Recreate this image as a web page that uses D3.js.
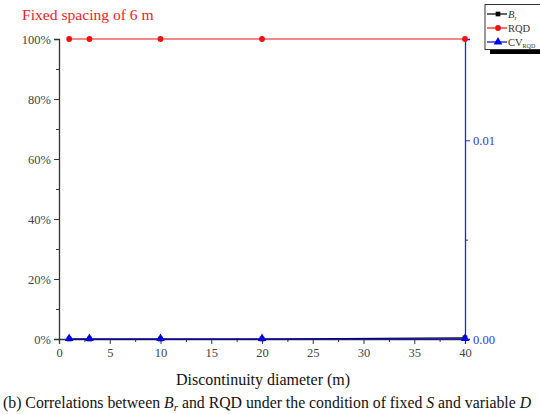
<!DOCTYPE html>
<html><head><meta charset="utf-8">
<script src="https://cdn.jsdelivr.net/npm/d3@7"></script>
<style>body{margin:0;background:#fff}svg{display:block}text{font-family:"Liberation Serif","Times New Roman",serif}</style>
</head><body>
<svg id="c" width="540" height="414"></svg>
<script>
const diameters = [1, 3, 10, 20, 40];
const brValues = [0, 0, 0, 0, 0.004];
const rqdValues = [1, 1, 1, 1, 1];
const cvValues = [0, 0, 0, 0, 0];
const xTicks = [0, 5, 10, 15, 20, 25, 30, 35, 40];
const yTicks = [0, 0.2, 0.4, 0.6, 0.8, 1.0];
const y2Ticks = [0, 0.01];

const svg = d3.select("#c");
const m = {l: 59, r: 465, t: 39, b: 339};
const x = d3.scaleLinear().domain([0, 40]).range([m.l, m.r]);
const y = d3.scaleLinear().domain([0, 1]).range([m.b, m.t]);
const y2 = d3.scaleLinear().domain([0, 0.0151]).range([m.b, m.t]);
const tc = "#444";

// left axis
const gy = svg.append("g").attr("transform", `translate(${m.l},0)`)
  .call(d3.axisLeft(y).tickValues(yTicks).tickFormat(d => Math.round(d*100) + "%").tickSize(5).tickPadding(3));
gy.select(".domain").attr("stroke", "#333").attr("stroke-width", 1.3);
gy.selectAll(".tick line").attr("stroke", "#333");
gy.selectAll("text").attr("font-size", 12.5).attr("fill", tc);
svg.append("g").attr("transform", `translate(${m.l},0)`)
  .call(d3.axisLeft(y).tickValues(d3.range(0.1, 1, 0.2)).tickFormat("").tickSize(3))
  .call(g => g.select(".domain").remove()).selectAll("line").attr("stroke", "#333");

// x axis
const gx = svg.append("g").attr("transform", `translate(0,${m.b})`)
  .call(d3.axisBottom(x).tickValues(xTicks).tickSize(5).tickPadding(4));
gx.select(".domain").attr("stroke", "#333").attr("stroke-width", 1.3);
gx.selectAll(".tick line").attr("stroke", "#333");
gx.selectAll("text").attr("font-size", 12.5).attr("fill", tc);
svg.append("g").attr("transform", `translate(0,${m.b})`)
  .call(d3.axisBottom(x).tickValues(d3.range(2.5, 40, 5)).tickFormat("").tickSize(3))
  .call(g => g.select(".domain").remove()).selectAll("line").attr("stroke", "#333");

// right axis
const gr = svg.append("g").attr("transform", `translate(${m.r},0)`)
  .call(d3.axisRight(y2).tickValues(y2Ticks).tickFormat(d3.format(".2f")).tickSize(5).tickPadding(3));
gr.select(".domain").attr("stroke", "#2222ee").attr("stroke-width", 1.3);
gr.selectAll(".tick line").attr("stroke", "#2222ee");
gr.selectAll("text").attr("font-size", 12.5).attr("fill", "#3333dd");
svg.append("g").attr("transform", `translate(${m.r},0)`)
  .call(d3.axisRight(y2).tickValues([0.005]).tickFormat("").tickSize(3))
  .call(g => g.select(".domain").remove()).selectAll("line").attr("stroke", "#2222ee");

// series
const line = (ys, yv) => d3.line().x((d, i) => x(diameters[i])).y(d => ys(d))(yv);
svg.append("path").attr("d", line(y, brValues)).attr("fill", "none").attr("stroke", "#000").attr("stroke-width", 1.2);
svg.append("path").attr("d", line(y, rqdValues)).attr("fill", "none").attr("stroke", "#ee1111").attr("stroke-width", 1.2);
svg.append("path").attr("d", line(y2, cvValues)).attr("fill", "none").attr("stroke", "#0000ee").attr("stroke-width", 1.2);
const sq = d3.symbol().type(d3.symbolSquare).size(22);
const ci = d3.symbol().type(d3.symbolCircle).size(26);
const tr = d3.symbol().type(d3.symbolTriangle).size(32);
svg.append("g").selectAll("path").data(brValues).join("path")
  .attr("d", sq).attr("transform", (d, i) => `translate(${x(diameters[i])},${y(d)})`).attr("fill", "#000");
svg.append("g").selectAll("path").data(rqdValues).join("path")
  .attr("d", ci).attr("transform", (d, i) => `translate(${x(diameters[i])},${y(d)})`).attr("fill", "#ee1111");
svg.append("g").selectAll("path").data(cvValues).join("path")
  .attr("d", tr).attr("transform", (d, i) => `translate(${x(diameters[i])},${y2(d) - 0.5})`).attr("fill", "#0000ee");

// title
svg.append("text").attr("x", 22).attr("y", 20).attr("font-size", 15.6).attr("fill", "#ee2222").text("Fixed spacing of 6 m");

// x label
svg.append("text").attr("x", 263).attr("y", 385).attr("text-anchor", "middle").attr("font-size", 16).attr("fill", "#111").text("Discontinuity diameter (m)");

// caption
const cap = svg.append("text").attr("x", 3).attr("y", 408).attr("font-size", 15.8).attr("fill", "#111");
cap.append("tspan").text("(b) Correlations between ");
cap.append("tspan").attr("font-style", "italic").text("B");
cap.append("tspan").attr("font-style", "italic").attr("font-size", 11).attr("dy", 3).text("r");
cap.append("tspan").attr("dy", -3).text(" and RQD under the condition of fixed ");
cap.append("tspan").attr("font-style", "italic").text("S");
cap.append("tspan").text(" and variable ");
cap.append("tspan").attr("font-style", "italic").text("D");

// legend
const lg = svg.append("g");
lg.append("rect").attr("x", 490).attr("y", 49).attr("width", 55).attr("height", 5).attr("fill", "#000");
lg.append("rect").attr("x", 485).attr("y", 4.5).attr("width", 60).attr("height", 45).attr("fill", "#fff").attr("stroke", "#333").attr("stroke-width", 1);
const items = [
  {c: "#000", s: sq, name: "B", sub: "r", it: true},
  {c: "#ee1111", s: ci, name: "RQD", sub: "", it: false},
  {c: "#0000ee", s: tr, name: "CV", sub: "RQD", it: false}
];
items.forEach((d, i) => {
  const yy = 14 + i * 14;
  lg.append("line").attr("x1", 487).attr("x2", 507).attr("y1", yy).attr("y2", yy).attr("stroke", d.c).attr("stroke-width", 1.2);
  lg.append("path").attr("d", d.s).attr("transform", `translate(498,${yy})`).attr("fill", d.c);
  const t = lg.append("text").attr("x", 508).attr("y", yy + 3.5).attr("font-size", 10.5).attr("fill", "#333");
  t.append("tspan").attr("font-style", d.it ? "italic" : "normal").text(d.name);
  if (d.sub) t.append("tspan").attr("font-size", 6).attr("dy", 2).text(d.sub);
});
</script>
</body></html>
